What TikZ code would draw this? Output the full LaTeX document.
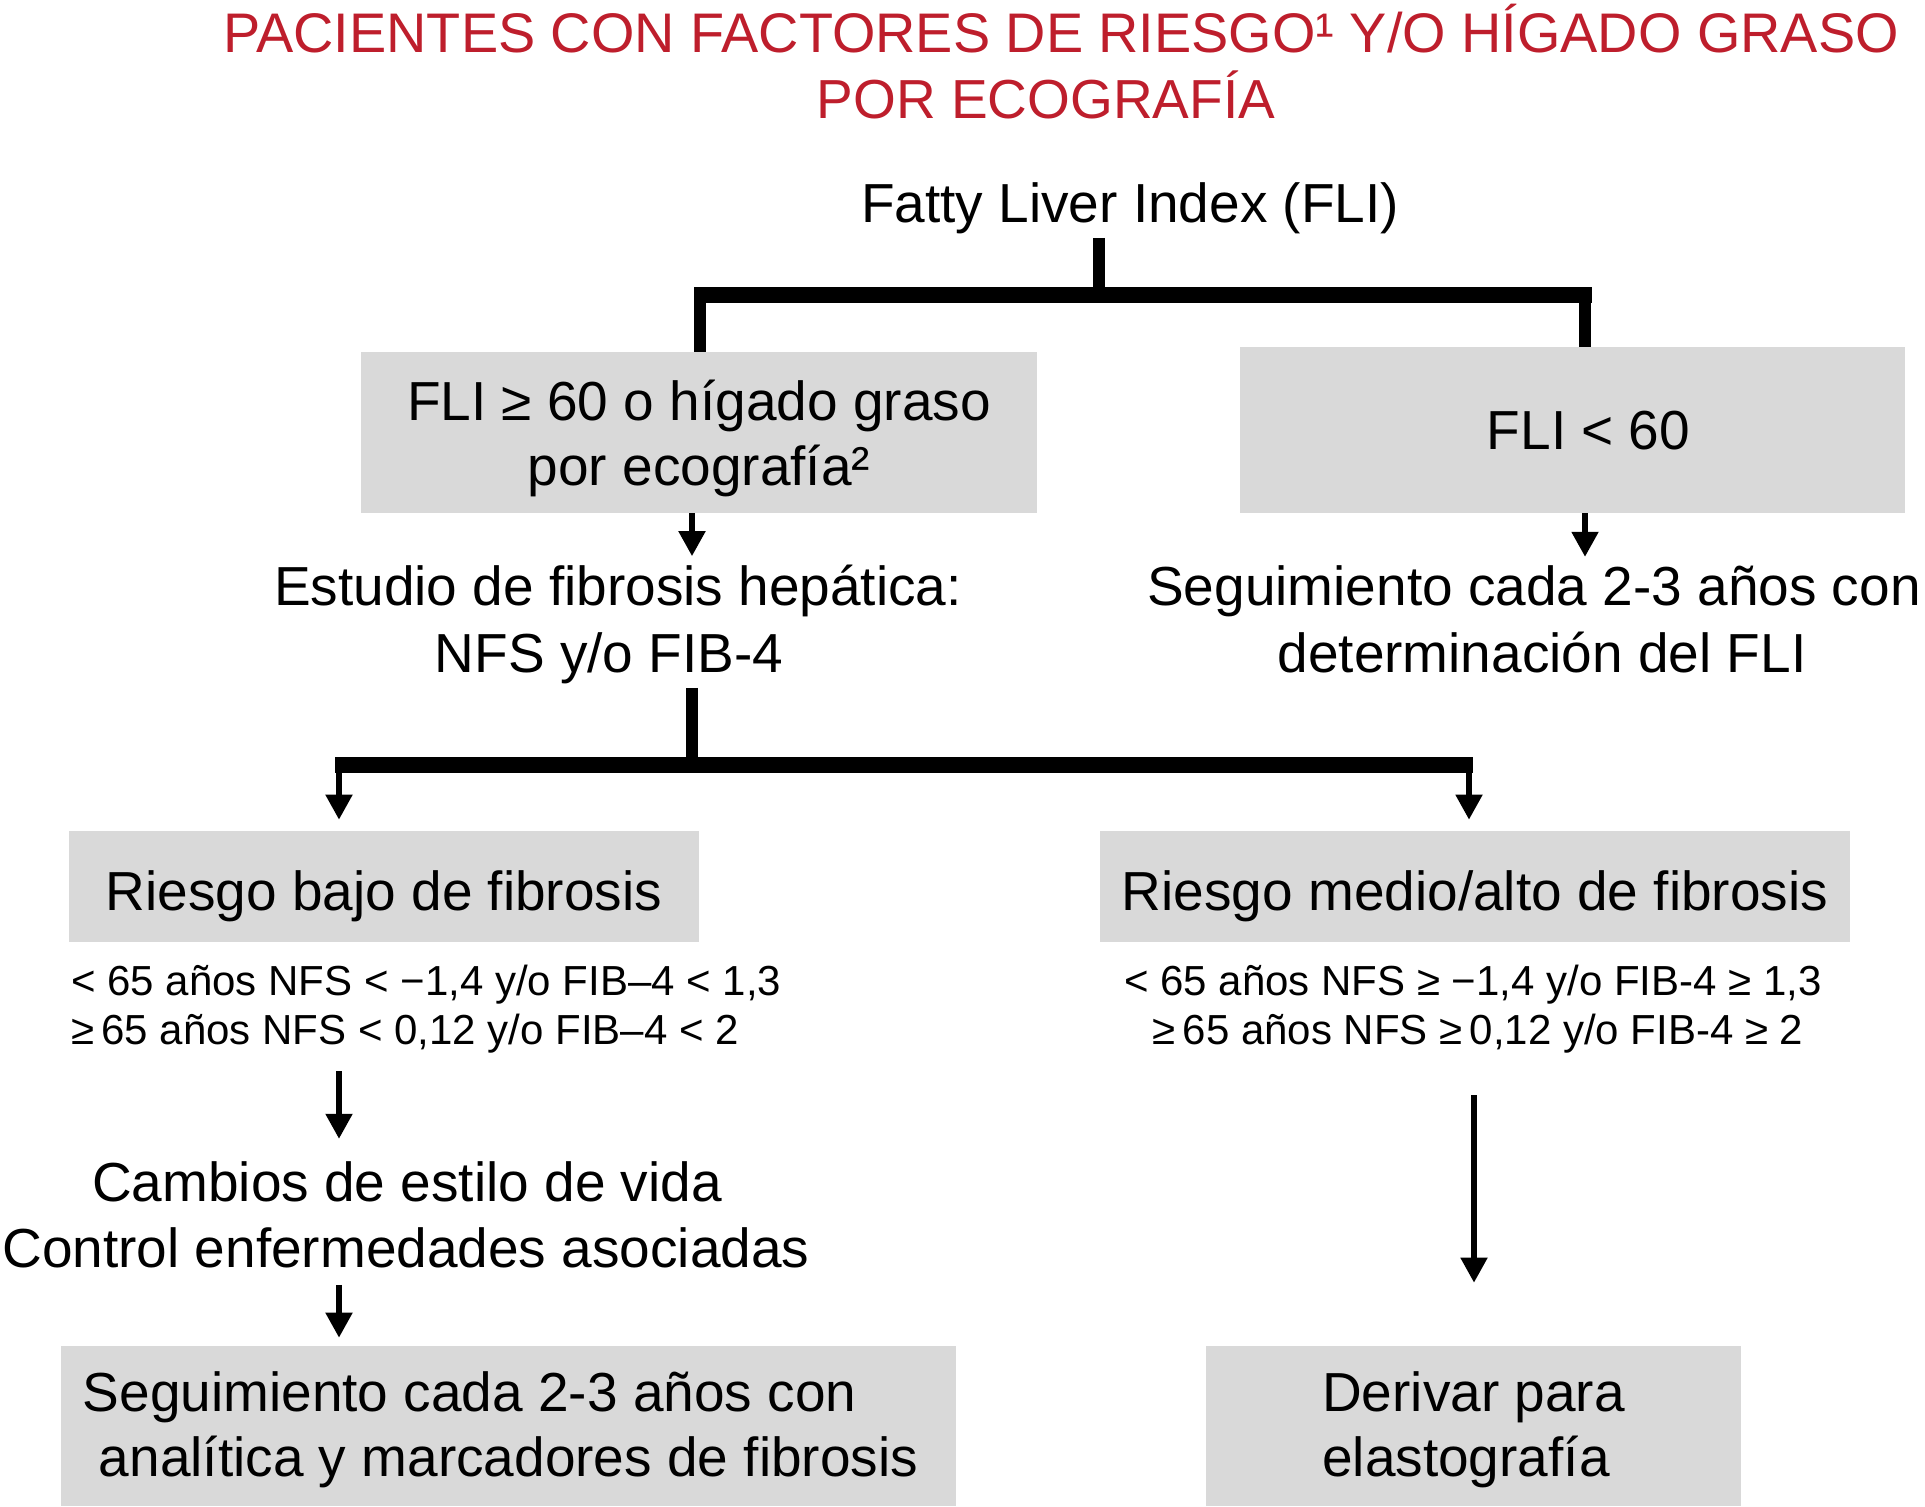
\documentclass[tikz,border=0pt]{standalone}
\usepackage{fontspec}
\setmainfont{Liberation Sans}
\usetikzlibrary{arrows.meta}
\definecolor{titlered}{RGB}{190,30,44}
\definecolor{boxgray}{RGB}{217,217,217}
\begin{document}
\begin{tikzpicture}[x=0.5pt,y=-0.5pt,
  bigtxt/.style={font=\fontsize{27.5pt}{32.5pt}\selectfont, inner sep=0pt},
  smalltxt/.style={font=\fontsize{21pt}{25pt}\selectfont, inner sep=0pt},
  titletxt/.style={bigtxt, text=titlered},
  graybox/.style={bigtxt, fill=boxgray, anchor=base},
  stem/.style={line width=6pt},
  hbar/.style={line width=8pt},
  arr/.style={line width=2.6pt, -{Triangle[length=12.5pt,width=13pt]}}]
\useasboundingbox (0,0) rectangle (1925,1506);

% column positions for connectors
\coordinate (xF) at (1099,0);
\coordinate (xA) at (692,0);
\coordinate (xB) at (1585,0);
\coordinate (xL) at (339,0);
\coordinate (xR) at (1469,0);
\coordinate (xR2) at (1474,0);

% title
\node[titletxt, anchor=base, font=\fontsize{27.9pt}{32.5pt}\selectfont] (t1) at (1061,52) {PACIENTES CON FACTORES DE RIESGO¹ Y/O HÍGADO GRASO};
\node[titletxt, anchor=base] (t2) at (1046,118) {POR ECOGRAFÍA};

\node[bigtxt, anchor=base] (fli) at (1130,222) {Fatty Liver Index (FLI)};

\node[graybox, minimum width=338pt, text height=66.5pt, text depth=14pt, align=center] (b1) at (699,485) {FLI ≥ 60 o hígado graso\\por ecografía²};
\node[graybox, minimum width=332.5pt, text height=51pt, text depth=32pt] (b2) at (1572.5,449) {\hspace*{16pt}FLI < 60};

\node[bigtxt, anchor=base] (e1) at (618,605) {Estudio de fibrosis hepática:};
\node[bigtxt, anchor=base] (e2) at (609,672) {NFS y/o FIB-4};
\node[bigtxt, anchor=base] (s1) at (1534,605) {Seguimiento cada 2-3 años con};
\node[bigtxt, anchor=base] (s2) at (1542,672) {determinación del FLI};

\node[graybox, minimum width=315pt, text height=39.5pt, text depth=16pt] (b3) at (384,910) {Riesgo bajo de fibrosis};
\node[graybox, minimum width=375pt, text height=39.5pt, text depth=16pt] (b4) at (1475,910) {Riesgo medio/alto de fibrosis};

\node[smalltxt, anchor=base west] (c1) at (71,995) {< 65 años NFS < −1,4 y/o FIB–4 < 1,3};
\node[smalltxt, anchor=base west] (c2) at (71,1044) {≥\,65 años NFS < 0,12 y/o FIB–4 < 2};
\node[smalltxt, anchor=base] (c3) at (1473,995) {< 65 años NFS ≥ −1,4 y/o FIB-4 ≥ 1,3};
\node[smalltxt, anchor=base] (c4) at (1478,1044) {≥\,65 años NFS ≥\,0,12 y/o FIB-4 ≥ 2};

\node[bigtxt, anchor=base] (v1) at (407,1201) {Cambios de estilo de vida};
\node[bigtxt, anchor=base] (v2) at (406,1267) {Control enfermedades asociadas};

\node[graybox, minimum width=447.5pt, text height=65pt, text depth=15pt, align=left] (b5) at (508.5,1476) {Seguimiento cada 2-3 años con\\\hspace*{8pt}analítica y marcadores de fibrosis\hspace*{8pt}};
\node[graybox, minimum width=267.5pt, text height=65pt, text depth=15pt, align=left] (b6) at (1473.5,1476) {Derivar para\\elastografía};

% top tree
\coordinate (j1) at (1099,295);
\coordinate (jl) at (700,295);
\coordinate (jr) at (1585,295);
\draw[stem] ([yshift=-2pt]fli.south -| xF) -- (j1);
\draw[hbar] ([xshift=-3pt]jl) -- ([xshift=3.5pt]jr);
\draw[stem] (jl) -- (jl |- b1.north);
\draw[stem] (jr) -- (jr |- b2.north);

\draw[arr, shorten >=4pt] (b1.south -| xA) -- (e1.north -| xA);
\draw[arr, shorten >=4pt] (b2.south -| xB) -- (s1.north -| xB);

% second tree
\coordinate (j2) at (692,765);
\coordinate (jl2) at (339,765);
\coordinate (jr2) at (1469,765);
\draw[stem] ([yshift=-2pt]e2.south -| xA) -- (j2);
\draw[hbar] ([xshift=-2pt]jl2) -- ([xshift=2pt]jr2);
\draw[arr, shorten >=5.5pt] (jl2) -- (jl2 |- b3.north);
\draw[arr, shorten >=5.5pt] (jr2) -- (jr2 |- b4.north);

% lower arrows
\draw[arr, shorten <=9pt, shorten >=11pt] (c2.south -| xL) -- (v1.north -| xL);
\draw[arr, shorten <=8.5pt, shorten >=4pt] (v2.south -| xL) -- (b5.north -| xL);
\draw[arr, shorten <=21pt, shorten >=31.5pt] (c4.south -| xR2) -- (b6.north -| xR2);
\end{tikzpicture}
\end{document}
